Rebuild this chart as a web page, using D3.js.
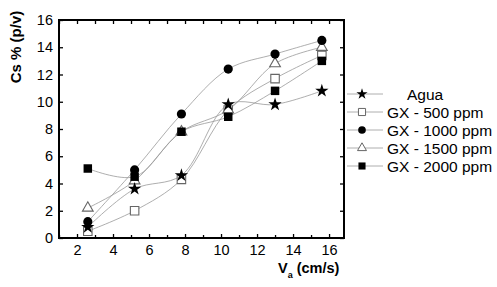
<!DOCTYPE html>
<html>
<head>
<meta charset="utf-8">
<script src="https://cdn.jsdelivr.net/npm/d3@7"></script>
<style>
  body { margin: 0; background: #fff; }
  text { font-family: "Liberation Sans", Arial, sans-serif; }
</style>
</head>
<body>
<div id="chart"></div>
<script>
// velocities (cm/s)
const va = [2.6, 5.2, 7.8, 10.4, 13.0, 15.6];

// Cs % (p/v) per series
const agua    = [0.8, 3.6, 4.6, 9.8, 9.8, 10.8];
const gx500   = [0.5, 2.0, 4.3, 9.4, 11.7, 13.4];
const gx1000  = [1.2, 5.0, 9.1, 12.4, 13.5, 14.5];
const gx1500  = [2.2, 4.2, 7.8, 9.4, 12.8, 14.0];
const gx2000  = [5.1, 4.5, 7.8, 8.9, 10.8, 13.0];

const seriesNames = ["Agua", "GX - 500 ppm", "GX - 1000 ppm", "GX - 1500 ppm", "GX - 2000 ppm"];
const xTicks = [2, 4, 6, 8, 10, 12, 14, 16];
const yTicks = [0, 2, 4, 6, 8, 10, 12, 14, 16];

const width = 497, height = 287;
const margin = { top: 20, right: 153, bottom: 49, left: 59 };

const series = [
  { name: seriesNames[0], values: agua,   sym: d3.symbolStar,     size: 55, fill: "#000", stroke: "none" },
  { name: seriesNames[1], values: gx500,  sym: d3.symbolSquare,   size: 72, fill: "#fff", stroke: "#666" },
  { name: seriesNames[2], values: gx1000, sym: d3.symbolCircle,   size: 66, fill: "#000", stroke: "none" },
  { name: seriesNames[3], values: gx1500, sym: d3.symbolTriangle, size: 50, fill: "#fff", stroke: "#666" },
  { name: seriesNames[4], values: gx2000, sym: d3.symbolSquare,   size: 72, fill: "#000", stroke: "none" }
];

const svg = d3.select("#chart").append("svg")
  .attr("width", width)
  .attr("height", height);

svg.append("rect").attr("width", width).attr("height", height).attr("fill", "#fff");

const x = d3.scaleLinear().domain([1, 16.83]).range([margin.left, width - margin.right]);
const y = d3.scaleLinear().domain([0, 16]).range([height - margin.bottom, margin.top]);

const x0 = x.range()[0], x1 = x.range()[1];
const y0 = y.range()[0], y1 = y.range()[1];

// curves
const line = d3.line()
  .x((d, i) => x(va[i]))
  .y(d => y(d))
  .curve(d3.curveCatmullRom.alpha(0.5));

svg.append("g").selectAll("path")
  .data(series)
  .join("path")
  .attr("d", d => line(d.values))
  .attr("fill", "none")
  .attr("stroke", "#999")
  .attr("stroke-width", 0.8);

// markers, drawn so the filled circles end up on top
const drawOrder = [1, 3, 4, 0, 2];
const markers = svg.append("g");
drawOrder.forEach(k => {
  const s = series[k];
  markers.append("g").selectAll("path")
    .data(s.values)
    .join("path")
    .attr("transform", (d, i) => `translate(${x(va[i])},${y(d)})`)
    .attr("d", d3.symbol(s.sym, s.size))
    .attr("fill", s.fill)
    .attr("stroke", s.stroke)
    .attr("stroke-width", 1.1);
});

// axes (ticks inside)
const tickLen = 4;
const xMinor = d3.range(1, 17, 1).filter(v => v % 2 === 1);

svg.append("g")
  .attr("transform", `translate(0,${y0})`)
  .call(d3.axisBottom(x).tickValues(xTicks).tickSize(-tickLen).tickPadding(7).tickFormat(d3.format("d")))
  .call(g => g.select(".domain").remove());

svg.append("g")
  .attr("transform", `translate(0,${y0})`)
  .call(d3.axisBottom(x).tickValues(xMinor).tickSize(-3).tickFormat(""))
  .call(g => g.select(".domain").remove());

svg.append("g")
  .attr("transform", `translate(0,${y1})`)
  .call(d3.axisTop(x).tickValues(xTicks.concat(xMinor)).tickSize(-tickLen).tickFormat(""))
  .call(g => g.select(".domain").remove());

svg.append("g")
  .attr("transform", `translate(${x0},0)`)
  .call(d3.axisLeft(y).tickValues(yTicks).tickSize(-tickLen).tickPadding(6).tickFormat(d3.format("d")))
  .call(g => g.select(".domain").remove());

svg.append("g")
  .attr("transform", `translate(${x1},0)`)
  .call(d3.axisRight(y).tickValues(yTicks).tickSize(-tickLen).tickFormat(""))
  .call(g => g.select(".domain").remove());

svg.selectAll(".tick line").attr("stroke", "#000").attr("stroke-width", 1.3);
svg.selectAll(".tick text").attr("font-size", 14.5).attr("fill", "#000")
  .attr("font-family", "'Liberation Sans', Arial, sans-serif");

// frame
svg.append("rect")
  .attr("x", x0).attr("y", y1)
  .attr("width", x1 - x0).attr("height", y0 - y1)
  .attr("fill", "none")
  .attr("stroke", "#000")
  .attr("stroke-width", 2);

// axis titles
svg.append("text")
  .attr("transform", `translate(21,47) rotate(-90)`)
  .attr("text-anchor", "middle")
  .attr("font-size", 15)
  .attr("font-weight", "bold")
  .text("Cs % (p/v)");

const xt = svg.append("text")
  .attr("x", 278).attr("y", 273)
  .attr("font-size", 14.5)
  .attr("font-weight", "bold");
xt.append("tspan").text("V");
xt.append("tspan").attr("font-size", 9).attr("dy", 5).text("a");
xt.append("tspan").attr("dy", -5).text(" (cm/s)");

// legend
const legend = svg.append("g").attr("transform", "translate(347,94)");
const row = legend.selectAll("g")
  .data(series)
  .join("g")
  .attr("transform", (d, i) => `translate(0,${i * 18})`);

row.append("line")
  .attr("x1", 0).attr("x2", 36)
  .attr("stroke", "#999").attr("stroke-width", 0.8);

row.append("path")
  .attr("transform", "translate(15,0)")
  .attr("d", d => d3.symbol(d.sym, d.size * 0.7)())
  .attr("fill", d => d.fill)
  .attr("stroke", d => d.stroke)
  .attr("stroke-width", 1);

row.append("text")
  .attr("x", (d, i) => i === 0 ? 60 : 40)
  .attr("y", 6)
  .attr("font-size", 15.5)
  .text(d => d.name);
</script>
</body>
</html>
